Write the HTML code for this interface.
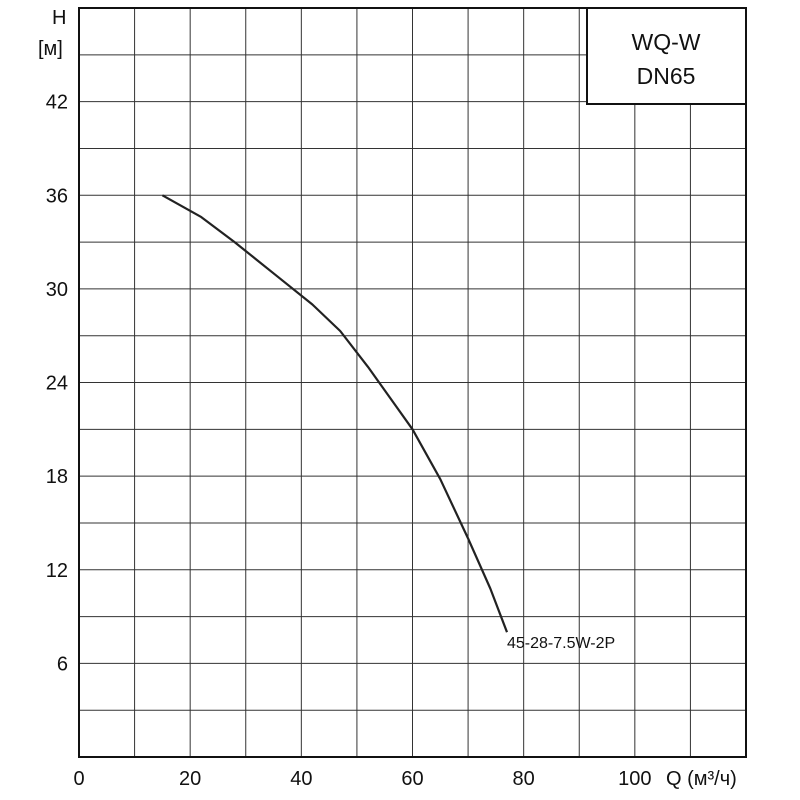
<!DOCTYPE html>
<html><head><meta charset="utf-8"><style>
html,body{margin:0;padding:0;background:#fff;}
svg{display:block;font-family:"Liberation Sans",sans-serif;}
</style></head><body>
<svg id="chart" width="800" height="800"></svg>
<script>
const xTicks=[0,20,40,60,80,100];
const yTicks=[6,12,18,24,30,36,42];
const flowQ=[15,22,28,35,42,47,52,57,60,65,70,74,77];
const headH=[36,34.6,33,31,29,27.3,25,22.5,21,17.8,14,10.8,8];
const seriesLabel="45-28-7.5W-2P";
const X0=79,X1=746,Y0=757,Y1=8,XMAX=120,YMAX=48;
const sx=v=>X0+(X1-X0)*v/XMAX, sy=v=>Y0-(Y0-Y1)*v/YMAX;
const svg=document.getElementById('chart');const NS='http://www.w3.org/2000/svg';
function mk(t,a,p){const e=document.createElementNS(NS,t);for(const k in a)e.setAttribute(k,a[k]);(p||svg).appendChild(e);return e;}
const grid=mk('g',{});


for(let v=0;v<=XMAX;v+=10){mk('line',{x1:sx(v),x2:sx(v),y1:Y1,y2:Y0,stroke:'#333','stroke-width':1},grid);}
for(let v=0;v<=YMAX;v+=3){mk('line',{x1:X0,x2:X1,y1:sy(v),y2:sy(v),stroke:'#333','stroke-width':1},grid);}
const fr=mk('rect',{x:X0,y:Y1,width:X1-X0,height:Y0-Y1,fill:'none',stroke:'#111','stroke-width':2});


xTicks.forEach(v=>{const t=mk('text',{x:sx(v),y:785,'font-size':20,'text-anchor':'middle',fill:'#111'});t.textContent=v;

});
yTicks.forEach(v=>{const t=mk('text',{x:68,y:sy(v)+7,'font-size':20,'text-anchor':'end',fill:'#111'});t.textContent=v;

});
let t=mk('text',{x:52,y:24,'font-size':20,fill:'#111'});t.textContent='H';


t=mk('text',{x:38,y:55,'font-size':20,fill:'#111'});t.textContent='[м]';


t=mk('text',{x:666,y:785,'font-size':20,fill:'#111'});t.textContent='Q (м³/ч)';


const d=flowQ.map((q,i)=>(i?'L':'M')+sx(q).toFixed(1)+','+sy(headH[i]).toFixed(1)).join(' ');
const p=mk('path',{d:d,fill:'none',stroke:'#222','stroke-width':2.2,'stroke-linejoin':'round'});


const li=flowQ.length-1;
t=mk('text',{x:sx(flowQ[li]),y:sy(headH[li])+16,'font-size':16,fill:'#111'});t.textContent=seriesLabel;


const b=mk('rect',{x:587,y:8,width:159,height:96,fill:'#fff',stroke:'#111','stroke-width':2});


t=mk('text',{x:666,y:50,'font-size':23,'text-anchor':'middle',fill:'#111'});t.textContent='WQ-W';


t=mk('text',{x:666,y:84,'font-size':23,'text-anchor':'middle',fill:'#111'});t.textContent='DN65';


</script>
</body></html>
